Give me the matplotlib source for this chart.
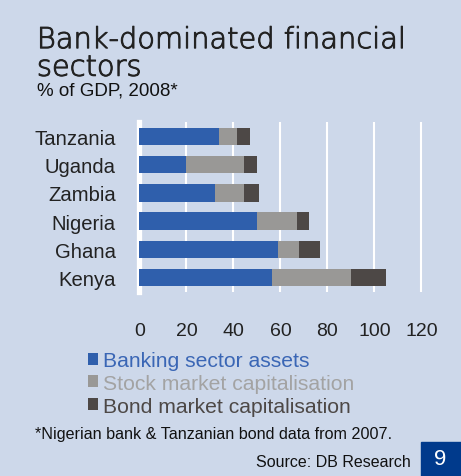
import matplotlib
matplotlib.use("Agg")
import matplotlib.pyplot as plt
import matplotlib.patheffects as pe
from matplotlib.patches import Rectangle

plt.rcParams["font.family"] = ["Liberation Sans", "DejaVu Sans"]

# data, % of GDP
countries = ["Kenya", "Ghana", "Nigeria", "Zambia", "Uganda", "Tanzania"]
bank = [56.5, 59, 50, 32, 20, 34]
stock = [33.5, 9, 17, 12.5, 24.5, 7.5]
bond = [15, 9, 5, 6.5, 5.5, 5.5]
series_names = ["Banking sector assets", "Stock market capitalisation",
                "Bond market capitalisation"]
xticks = [0, 20, 40, 60, 80, 100, 120]

bg = "#CDD8EA"
colors = ["#2F5FAC", "#999896", "#4D4846"]
text_colors = ["#3A66B5", "#A3A3A3", "#4D4846"]

fig = plt.figure(figsize=(4.61, 4.77), dpi=100, facecolor=bg)
ax = fig.add_axes([0.3026, 0.3864, 0.6139, 0.3551], facecolor=bg)

y = range(len(countries))
left2 = [a + b for a, b in zip(bank, stock)]
h = 0.625
b1 = ax.barh(y, bank, height=h, color=colors[0], zorder=3)
b2 = ax.barh(y, stock, left=bank, height=h, color=colors[1], zorder=3)
b3 = ax.barh(y, bond, left=left2, height=h, color=colors[2], zorder=3)

ax.set_xlim(0, 120.5)
ax.set_ylim(-0.5, 5.5)
ax.set_xticks(xticks)
ax.set_yticks(list(y))
ax.set_yticklabels(countries)
ax.tick_params(axis="x", length=0, pad=21.5, labelsize=14, colors="#222222")
ax.tick_params(axis="y", length=0, pad=17, labelsize=14.6, colors="#222222")
ax.grid(axis="x", color="white", lw=1.5, zorder=1)
for s in ["top", "right", "bottom"]:
    ax.spines[s].set_visible(False)
ax.spines["left"].set_color("white")
ax.spines["left"].set_linewidth(3.8)
ax.spines["left"].set_zorder(2)

# title block (light face, thickened a little)
thick = [pe.withStroke(linewidth=0.7, foreground="#222222")]
fig.text(0.08, 0.897, "Bank-dominated financial", fontsize=20.8,
         family="DejaVu Sans", fontweight="light", color="#222222",
         va="baseline", path_effects=thick)
fig.text(0.08, 0.839, "sectors", fontsize=20.8,
         family="DejaVu Sans", fontweight="light", color="#222222",
         va="baseline", path_effects=thick)
fig.text(0.08, 0.799, "% of GDP, 2008*", fontsize=13.5,
         color="#111111", va="baseline")

# legend
leg = fig.legend([b1, b2, b3], series_names, loc="upper left",
                 bbox_to_anchor=(0.19, 0.262), frameon=False, fontsize=15.2,
                 handlelength=0.5, handleheight=0.5, handletextpad=0.25,
                 labelspacing=0.18, borderpad=0, borderaxespad=0)
for t, c in zip(leg.get_texts(), text_colors):
    t.set_color(c)

fig.text(0.076, 0.0797, "*Nigerian bank & Tanzanian bond data from 2007.",
         fontsize=11.6, color="#111111", va="baseline")
fig.text(0.8915, 0.0217, "Source: DB Research", fontsize=11.5,
         color="#111111", va="baseline", ha="right")

# page number box
fig.patches.append(Rectangle((0.9126, 0), 0.0874, 0.0719,
                             transform=fig.transFigure, color="#003A8C"))
fig.text(0.9545, 0.036, "9", fontsize=16, color="white",
         ha="center", va="center")

fig.savefig("out.png", dpi=100, facecolor=bg)
